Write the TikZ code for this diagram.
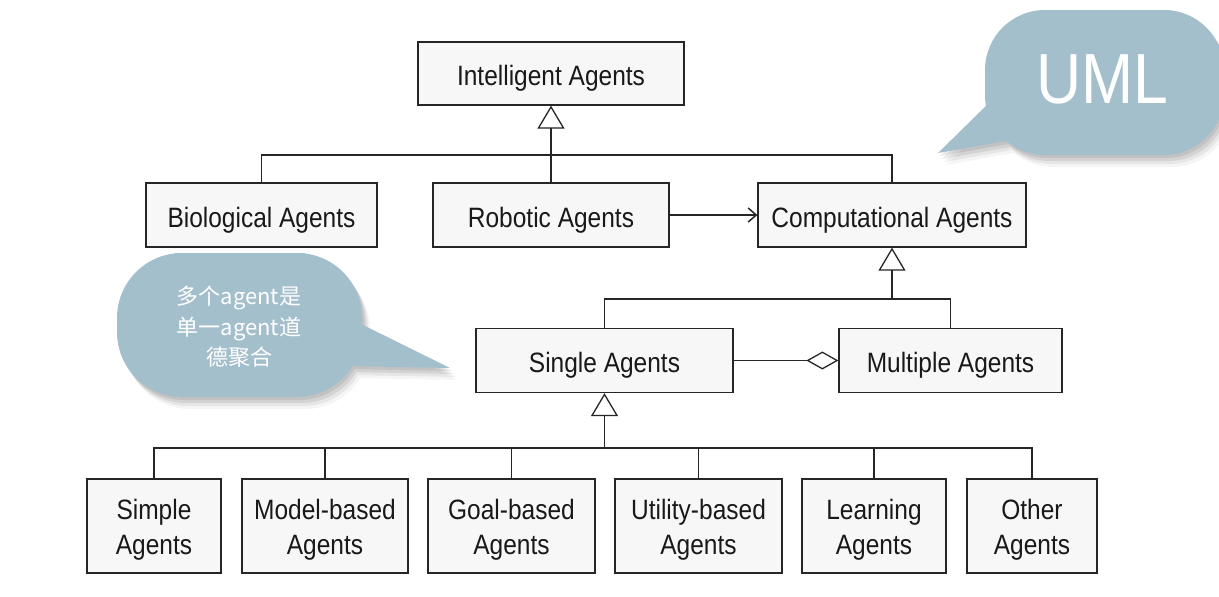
\documentclass[tikz,border=0pt]{standalone}
\usepackage{fontspec}
\setmainfont{Liberation Sans}[FakeStretch=0.875]
\newfontfamily\umlfont{Liberation Sans}[FakeStretch=0.88]
\newfontfamily\cjkfont{Noto Sans CJK SC}
\usetikzlibrary{arrows.meta}
\definecolor{bub}{RGB}{164,191,204}
\definecolor{boxfill}{RGB}{247,247,247}
\definecolor{ln}{RGB}{38,38,38}
\newcommand\topstrut{\rule{0pt}{28pt}}
\tikzset{
  cls/.style={draw=ln, line width=1.3pt, fill=boxfill, inner sep=0pt, align=center,
    text height=24pt, text depth=0pt,
    font=\fontsize{28pt}{35pt}\selectfont, text=black!90},
  cls2/.style={cls, text height=, text depth=, minimum height=94pt},
  conn/.style={draw=ln, line width=1.3pt},
  gen/.style={conn, -{Triangle[open, length=23pt, width=27pt, line width=1.3pt]}},
  agg/.style={conn, -{Diamond[open, length=32pt, width=18pt, line width=1.3pt]}},
  nav/.style={conn, -{Straight Barb[length=8pt, width=14pt, line width=1.5pt]}},
  bubtext/.style={text=white, inner sep=0pt, align=center},
}
\begin{document}
\begin{tikzpicture}[x=1pt,y=-1pt]
\useasboundingbox (0,0) rectangle (1219,597);
\fill[white] (0,0) rectangle (1219,597);

% speech bubbles (with soft shadow)
\foreach \dx/\dy/\op/\col in {8/12/0.04/black, 6/9/0.06/black, 4/6/0.08/black, 2/3/0.08/black, 0/0/1/bub}{
  \fill[\col, opacity=\op, shift={(\dx,\dy)}, rounded corners=60]
    (1100,10) -- (1224,10) -- (1224,155) -- (985,155) -- (985,10) -- cycle
    [sharp corners] (994,98) -- (1012,140) -- (938,153) -- cycle;
  \fill[\col, opacity=\op, shift={(\dx,\dy)}, rounded corners=65]
    (240,253) -- (362,253) -- (362,397) -- (117,397) -- (117,253) -- cycle
    [sharp corners] (357,322) -- (450,368) -- (343,366) -- cycle;
}
\node[bubtext, font=\umlfont\fontsize{71pt}{71pt}\selectfont, anchor=base] (uml) at (1102,103) {UML};
\node[bubtext, font=\cjkfont\fontsize{22pt}{30.5pt}\selectfont] (note) at (239,327) {多个agent是\\单一agent道\\德聚合};

% classes
\node[cls, minimum width=266pt, minimum height=63pt] (IA) at (551,73.5) {Intelligent Agents};
\node[cls, minimum width=231pt, minimum height=64pt] (Bio) at (261.5,215) {Biological Agents};
\node[cls, minimum width=236pt, minimum height=64pt] (Rob) at (551,215) {Robotic Agents};
\node[cls, minimum width=268pt, minimum height=64pt] (Comp) at (892,215) {Computational Agents};
\node[cls, minimum width=257pt, minimum height=64pt] (Single) at (604.5,360.5) {Single Agents};
\node[cls, minimum width=223pt, minimum height=64pt] (Multi) at (950.5,360.5) {Multiple Agents};
\node[cls2, minimum width=134pt] (Simple) at (154,526) {\topstrut Simple\\Agents};
\node[cls2, minimum width=166pt] (Model) at (325,526) {\topstrut Model-based\\Agents};
\node[cls2, minimum width=167pt] (Goal) at (511.5,526) {\topstrut Goal-based\\Agents};
\node[cls2, minimum width=167pt] (Utility) at (698.5,526) {\topstrut Utility-based\\Agents};
\node[cls2, minimum width=144pt] (Learning) at (874,526) {\topstrut Learning\\Agents};
\node[cls2, minimum width=130pt] (Other) at (1032,526) {\topstrut Other\\Agents};

% connectors
\coordinate (j1) at (551,155);
\coordinate (j2) at (892,299);
\coordinate (j3) at (604.5,448);
\draw[gen] (Rob.north) -- (IA.south);
\draw[conn] (Bio.north) |- (j1) -| (Comp.north);
\draw[nav] (Rob.east) -- (Comp.west);
\draw[gen] (j2) -- (Comp.south);
\draw[conn] (Single.north) |- (j2) -| (Multi.north);
\draw[agg] (Single.east) -- (Multi.west);
\draw[gen, line width=1.8pt] (j3) -- (Single.south);
\draw[conn] (Simple.north) |- (j3) -| (Other.north);
\foreach \n in {Model,Goal,Utility,Learning}
  \draw[conn] (\n.north) -- (\n.north |- j3);
\end{tikzpicture}
\end{document}
